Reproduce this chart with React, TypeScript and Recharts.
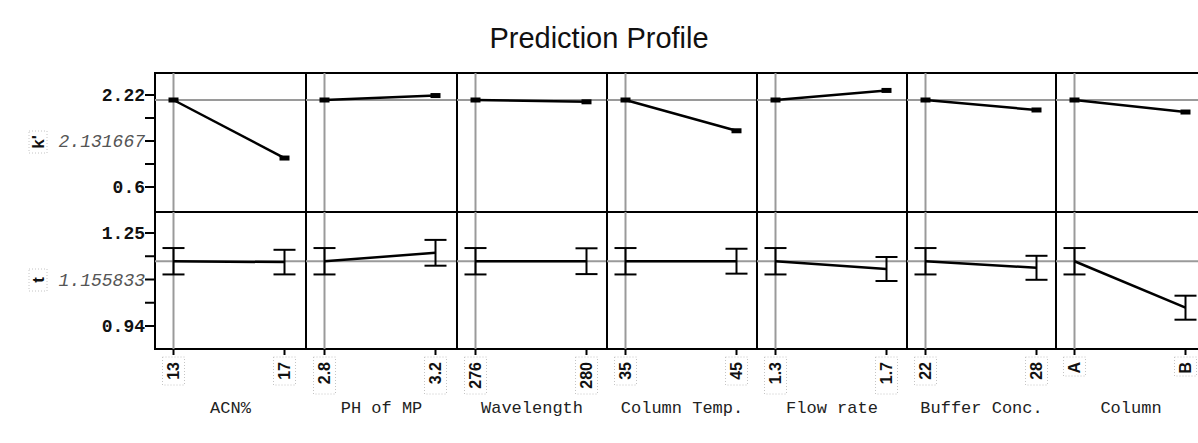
import React from 'react';
import { LineChart, Line, XAxis, YAxis, ReferenceLine, ReferenceArea, ErrorBar } from 'recharts';

// factors and their low / high settings
const factors = ['ACN%', 'PH of MP', 'Wavelength', 'Column Temp.', 'Flow rate', 'Buffer Conc.', 'Column'];
const lowLevels = ['13', '2.8', '276', '35', '1.3', '22', 'A'];
const highLevels = ['17', '3.2', '280', '45', '1.7', '28', 'B'];

// k' response
const kCurrent = 2.131667;
const kHigh = [1.11, 2.21, 2.1, 1.59, 2.3, 1.956, 1.92];
const kTicks = [2.22, 1.815, 1.41, 1.005, 0.6];
const kTickLabels = ['2.22', '', '2.131667', '', '0.6'];

// t response with confidence half-widths
const tCurrent = 1.155833;
const tLowErr = [0.044, 0.044, 0.044, 0.044, 0.044, 0.044, 0.044];
const tHigh = [1.153, 1.184, 1.156, 1.156, 1.13, 1.134, 1.001];
const tHighErr = [0.041, 0.043, 0.043, 0.0415, 0.04, 0.04, 0.04];
const tTicks = [1.25, 1.1725, 1.095, 1.0175, 0.94];
const tTickLabels = ['1.25', '', '1.155833', '', '0.94'];

const COL_LEFT = [155, 306, 457, 607, 757, 907, 1056];
const COL_RIGHT = [306, 457, 607, 757, 907, 1056, 1206];
const Y_AXIS_W = 155;
const TOP_Y = 73;
const TOP_H = 139;
const BOT_H = 137;
const X_AXIS_H = 70;
const K_DOMAIN: [number, number] = [0.16, 2.607];
const T_DOMAIN: [number, number] = [0.8633, 1.32];
const MONO = '"Liberation Mono", "Courier New", monospace';
const SANS = 'Arial, "Liberation Sans", sans-serif';
const GRAY = '#9a9a9a';
const PX = 1 / 111; // one pixel in panel x units

const xDomain = (w: number): [number, number] => [-18.5 / 111, (w - 18.5) / 111];

function YTick(props: any) {
  const { y, index, labels } = props;
  const s = labels[index];
  if (!s) return <g />;
  const current = index === 2;
  return (
    <text
      x={Y_AXIS_W - 10}
      y={y}
      dy="0.35em"
      textAnchor="end"
      fontFamily={MONO}
      fontSize={18}
      fontWeight={current ? 'normal' : 'bold'}
      fontStyle={current ? 'italic' : 'normal'}
      fill={current ? '#555' : '#111'}
    >
      {s}
    </text>
  );
}

function LevelTick(props: any) {
  const { x, y, index, levels } = props;
  const s: string = levels[index];
  const len = s.length * 9;
  return (
    <g>
      <rect x={x - 11} y={y} width={22} height={len + 10} fill="none" stroke="#c4c4c4" strokeDasharray="1 2" />
      <text
        transform={`rotate(-90 ${x} ${y + 5})`}
        x={x}
        y={y + 5}
        dy="0.35em"
        textAnchor="end"
        fontFamily={SANS}
        fontSize={16}
        fontWeight="bold"
        fill="#111"
      >
        {s}
      </text>
    </g>
  );
}

function RowLabel(props: any) {
  const { text, cy } = props;
  const cx = 38;
  return (
    <g>
      <rect x={cx - 9} y={cy - 11} width={18} height={22} fill="none" stroke="#c4c4c4" strokeDasharray="1 2" />
      <text
        transform={`rotate(-90 ${cx} ${cy})`}
        x={cx}
        y={cy}
        dy="0.35em"
        textAnchor="middle"
        fontFamily={SANS}
        fontSize={17}
        fontWeight="bold"
        fill="#111"
      >
        {text}
      </text>
    </g>
  );
}

function Panel({ i, row }: { i: number; row: 'k' | 't' }) {
  const first = i === 0;
  const pw = COL_RIGHT[i] - COL_LEFT[i];
  const width = pw + (first ? Y_AXIS_W : 0);
  const left = COL_LEFT[i] - (first ? Y_AXIS_W : 0);
  const isK = row === 'k';
  const height = isK ? TOP_H : BOT_H + X_AXIS_H;
  const top = isK ? TOP_Y : TOP_Y + TOP_H;
  const yDom = isK ? K_DOMAIN : T_DOMAIN;
  const xDom = xDomain(pw);
  const current = isK ? kCurrent : tCurrent;
  const ticks = isK ? kTicks : tTicks;
  const data = isK
    ? [
        { x: 0, y: kCurrent },
        { x: 1, y: kHigh[i] },
      ]
    : [
        { x: 0, y: tCurrent, err: tLowErr[i] },
        { x: 1, y: tHigh[i], err: tHighErr[i] },
      ];

  return (
    <div style={{ position: 'absolute', left, top }}>
      <LineChart width={width} height={height} data={data} margin={{ top: 0, right: 0, bottom: 0, left: 0 }}>
        <XAxis
          type="number"
          dataKey="x"
          domain={xDom}
          ticks={[0, 1]}
          hide={isK}
          height={X_AXIS_H}
          axisLine={false}
          tickSize={6}
          tickLine={{ stroke: '#000', strokeWidth: 2 }}
          interval={0}
          tick={(p: any) => <LevelTick {...p} levels={[lowLevels[i], highLevels[i]]} />}
          label={{
            value: factors[i],
            position: 'insideBottom',
            offset: 6,
            fontFamily: MONO,
            fontSize: 17,
            fill: '#222',
          }}
        />
        <YAxis
          type="number"
          domain={yDom}
          ticks={ticks}
          hide={!first}
          width={Y_AXIS_W}
          axisLine={false}
          tickSize={8}
          tickLine={false}
          interval={0}
          tick={(p: any) => <YTick {...p} labels={isK ? kTickLabels : tTickLabels} />}
          label={(p: any) => <RowLabel {...p} text={isK ? "k'" : 't'} cy={isK ? 69 : 68} />}
        />
        <ReferenceLine x={0} stroke={GRAY} strokeWidth={2} />
        <ReferenceLine y={current} stroke={GRAY} strokeWidth={2} />
        {first &&
          ticks.map((v) => (
            <ReferenceLine
              key={v}
              segment={[
                { x: xDom[0] - 10 * PX, y: v },
                { x: xDom[0], y: v },
              ]}
              ifOverflow="visible"
              stroke="#000"
              strokeWidth={2}
            />
          ))}
        <ReferenceArea
          x1={xDom[0]}
          x2={xDom[1]}
          y1={yDom[0]}
          y2={yDom[1]}
          fill="none"
          fillOpacity={0}
          stroke="#000"
          strokeWidth={2}
        />
        <Line
          type="linear"
          dataKey="y"
          stroke="#000"
          strokeWidth={2.5}
          isAnimationActive={false}
          activeDot={false}
          dot={
            isK
              ? (p: any) => <rect key={p.index} x={p.cx - 5} y={p.cy - 2.5} width={10} height={5} fill="#000" />
              : false
          }
        >
          {!isK && <ErrorBar dataKey="err" width={11} stroke="#000" strokeWidth={2} isAnimationActive={false} />}
        </Line>
      </LineChart>
    </div>
  );
}

export default function App() {
  return (
    <div
      style={{
        position: 'absolute',
        left: 0,
        top: 0,
        width: 1198,
        height: 443,
        overflow: 'hidden',
        background: '#fff',
      }}
    >
      <style>{'.recharts-surface{overflow:visible}'}</style>
      <div
        style={{
          position: 'absolute',
          left: 0,
          top: 22,
          width: 1198,
          textAlign: 'center',
          fontFamily: SANS,
          fontSize: 29,
          color: '#111',
        }}
      >
        Prediction Profile
      </div>
      {factors.map((f, i) => (
        <Panel key={'k' + f} i={i} row="k" />
      ))}
      {factors.map((f, i) => (
        <Panel key={'t' + f} i={i} row="t" />
      ))}
    </div>
  );
}
